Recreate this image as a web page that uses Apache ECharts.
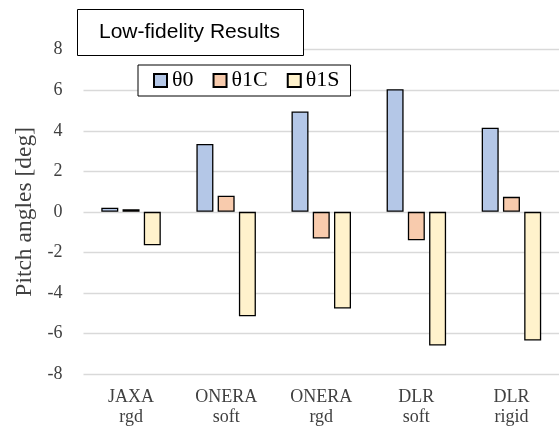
<!DOCTYPE html>
<html>
<head>
<meta charset="utf-8">
<script src="https://cdn.jsdelivr.net/npm/echarts@6/dist/echarts.min.js"></script>
<style>
html,body{margin:0;padding:0;background:#fff;}
#chart{width:559px;height:428px;}
</style>
</head>
<body>
<div id="chart"></div>
<script>
const categories = ["JAXA\nrgd", "ONERA\nsoft", "ONERA\nrgd", "DLR\nsoft", "DLR\nrigid"];
const seriesNames = ["θ0", "θ1C", "θ1S"];
const theta0 = [0.2, 3.35, 4.95, 6.05, 4.15];
const theta1C = [0.13, 0.8, -1.32, -1.4, 0.74];
const theta1S = [-1.65, -5.15, -4.77, -6.6, -6.35];
const yTicks = [-8, -6, -4, -2, 0, 2, 4, 6, 8];
const colors = ["#b4c7e7", "#f8cbad", "#fff2cc"];

const chart = echarts.init(document.getElementById('chart'), null, {renderer: 'canvas'});
const serif = "'Liberation Serif', 'Times New Roman', serif";
const data = [theta0, theta1C, theta1S];

chart.setOption({
  animation: false,
  backgroundColor: '#ffffff',
  title: {
    text: 'Low-fidelity Results',
    left: 77, top: 9,
    padding: [12, 24, 12, 22],
    backgroundColor: '#ffffff',
    borderColor: '#000000',
    borderWidth: 1,
    textStyle: {fontFamily: "'Liberation Sans', Arial, sans-serif", fontSize: 21, fontWeight: 'normal', color: '#000', lineHeight: 23}
  },
  legend: {
    data: seriesNames,
    left: 138, top: 65,
    padding: [4, 11, 4, 15],
    itemWidth: 13, itemHeight: 13, itemGap: 19,
    icon: 'rect',
    backgroundColor: '#ffffff',
    borderColor: '#000000',
    borderWidth: 1,
    textStyle: {fontFamily: serif, fontSize: 22, color: '#000', lineHeight: 23}
  },
  grid: {left: 83.5, right: 0, top: 49.7, bottom: 54, containLabel: false},
  xAxis: {
    type: 'category',
    data: categories,
    position: 'bottom',
    axisLine: {show: false, onZero: false},
    axisTick: {show: false},
    axisLabel: {fontFamily: serif, fontSize: 18, color: '#404040', margin: 13, lineHeight: 20}
  },
  yAxis: {
    type: 'value',
    min: yTicks[0], max: yTicks[yTicks.length - 1], interval: 2,
    name: 'Pitch angles [deg]',
    nameLocation: 'middle',
    nameRotate: 90,
    nameGap: 46,
    nameTextStyle: {fontFamily: serif, fontSize: 23.5, color: '#404040'},
    axisLine: {show: false},
    axisTick: {show: false},
    splitLine: {lineStyle: {color: '#d9d9d9', width: 1.3}},
    axisLabel: {fontFamily: serif, fontSize: 18, color: '#404040', margin: 21}
  },
  series: seriesNames.map((n, i) => ({
    name: n,
    type: 'bar',
    data: data[i],
    barWidth: 17,
    barGap: '25%',
    itemStyle: {color: colors[i], borderColor: '#000000', borderWidth: 1.3}
  }))
});
</script>
</body>
</html>
